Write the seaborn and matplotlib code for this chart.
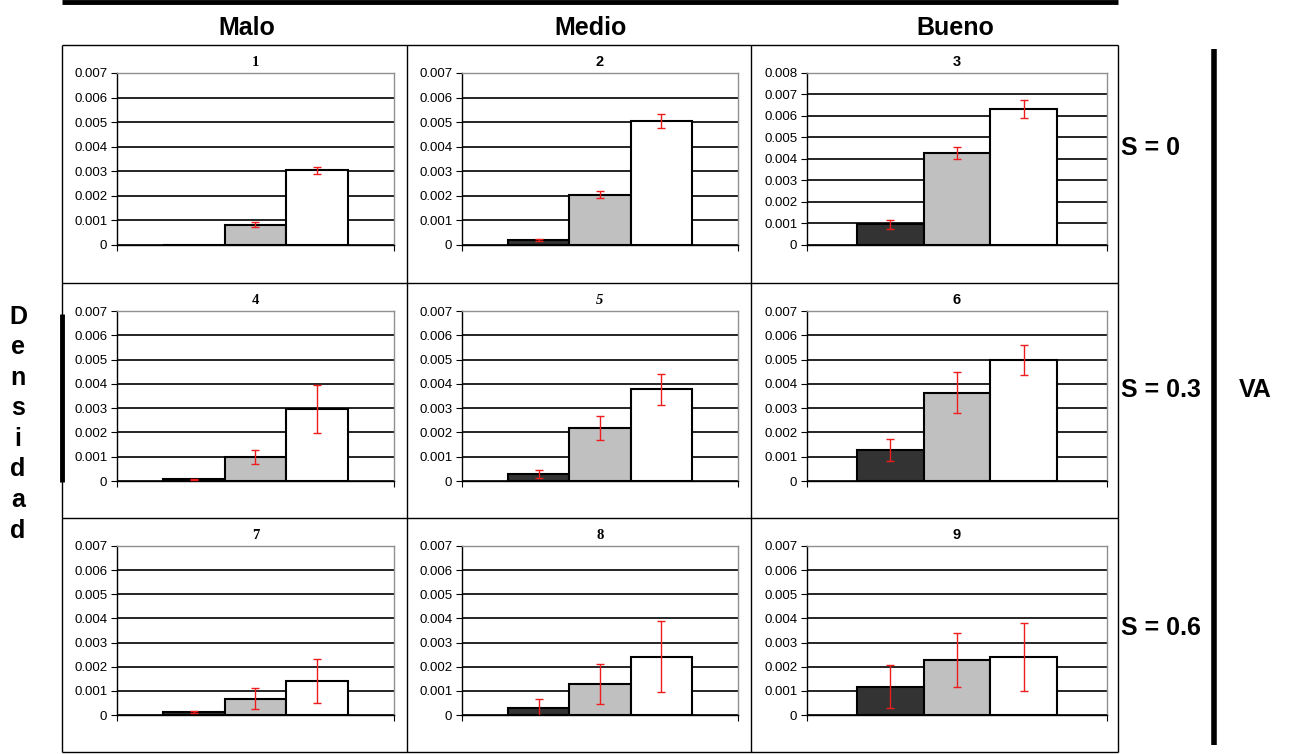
import pandas as pd
import matplotlib
matplotlib.use("Agg")
import matplotlib.pyplot as plt
from matplotlib.lines import Line2D
from matplotlib.ticker import FuncFormatter, MultipleLocator
import seaborn as sns

# datos (densidad media y error por panel)
series = ["bajo", "medio", "alto"]
colores = ["#333333", "#c0c0c0", "#ffffff"]
columnas = ["Malo", "Medio", "Bueno"]
filas = ["S = 0", "S = 0.3", "S = 0.6"]

p1 = [0.0, 0.00083, 0.00304]
p2 = [0.0002, 0.00205, 0.00504]
p3 = [0.00096, 0.00428, 0.00632]
p4 = [0.00007, 0.00098, 0.00296]
p5 = [0.00029, 0.00218, 0.00378]
p6 = [0.00127, 0.00364, 0.00497]
p7 = [0.00012, 0.00067, 0.0014]
p8 = [0.00028, 0.0013, 0.00241]
p9 = [0.00118, 0.00229, 0.00241]

e1 = [0.0, 0.0001, 0.00014]
e2 = [0.00003, 0.00015, 0.00028]
e3 = [0.0002, 0.0003, 0.00041]
e4 = [0.00002, 0.00028, 0.001]
e5 = [0.00016, 0.00048, 0.00064]
e6 = [0.00045, 0.00086, 0.00061]
e7 = [0.00004, 0.00044, 0.00092]
e8 = [0.0004, 0.00083, 0.00147]
e9 = [0.0009, 0.00112, 0.00142]

ymax = [0.007, 0.007, 0.008, 0.007, 0.007, 0.007, 0.007, 0.007, 0.007]

valores = [p1, p2, p3, p4, p5, p6, p7, p8, p9]
errores = [e1, e2, e3, e4, e5, e6, e7, e8, e9]

rows = []
for i, (vals, errs) in enumerate(zip(valores, errores)):
    for s, v, e in zip(series, vals, errs):
        rows.append({"panel": i + 1, "grupo": "g", "serie": s, "valor": v, "err": e})
df = pd.DataFrame(rows)

sns.set_style("white")
plt.rcParams["font.family"] = ["Liberation Sans", "DejaVu Sans"]
plt.rcParams["text.color"] = "black"
plt.rcParams["xtick.color"] = "black"
plt.rcParams["ytick.color"] = "black"
plt.rcParams["axes.labelcolor"] = "black"

W, H = 1295, 754
fig = plt.figure(figsize=(W / 100, H / 100), dpi=100)


def fx(x):
    return x / W


def fy(y):
    return 1 - y / H


def linea(x0, y0, x1, y1, lw=1.0, color="black"):
    fig.add_artist(Line2D([fx(x0), fx(x1)], [fy(y0), fy(y1)], transform=fig.transFigure,
                          color=color, linewidth=lw, solid_capstyle="butt"))


# estilos del titulo de cada panel (como en el original)
titulo_fuente = {1: ("Liberation Serif", "normal"), 4: ("Liberation Serif", "normal"),
                 7: ("Liberation Serif", "normal"), 8: ("Liberation Serif", "normal"),
                 5: ("Liberation Serif", "italic")}

lefts = [117, 462, 807]
rights = [394, 738, 1107]
tops = [73, 311, 546]
bottoms = [245, 481, 715]

fmt = FuncFormatter(lambda v, _: "0" if abs(v) < 1e-9 else f"{v:.3f}")

for i in range(9):
    r, c = divmod(i, 3)
    l, rt, t, b = lefts[c], rights[c], tops[r], bottoms[r]
    ax = fig.add_axes([fx(l), fy(b), fx(rt - l), (b - t) / H])
    sub = df[df["panel"] == i + 1]
    sns.barplot(data=sub, x="grupo", y="valor", hue="serie", hue_order=series,
                palette=colores, width=0.667, edgecolor="black", linewidth=1.5,
                errorbar=None, legend=False, ax=ax, zorder=3)
    for cont, (_, row) in zip(ax.containers, sub.iterrows()):
        bar = cont[0]
        if row["err"] > 0:
            ax.errorbar(bar.get_x() + bar.get_width() / 2, row["valor"], yerr=row["err"],
                        fmt="none", ecolor="#ee1c1c", elinewidth=1.0, capsize=3, capthick=1.0,
                        zorder=4)
    ax.set_xlim(-0.5, 0.5)
    ax.set_ylim(0, ymax[i])
    ax.yaxis.set_major_locator(MultipleLocator(0.001))
    ax.yaxis.set_major_formatter(fmt)
    ax.set_xticks([-0.5, 0.5])
    ax.set_xticklabels(["", ""])
    ax.set_xlabel("")
    ax.set_ylabel("")
    ax.tick_params(axis="both", direction="out", length=4, width=0.8, color="black",
                   labelcolor="black", labelsize=9.5, pad=3, left=True, bottom=True)
    ax.grid(axis="y", color="black", linewidth=1.2, zorder=1)
    ax.set_axisbelow(True)
    ax.get_ygridlines()[-1].set_visible(False)
    for side in ["left", "bottom"]:
        ax.spines[side].set_color("black")
        ax.spines[side].set_linewidth(1.0)
    for side in ["top", "right"]:
        ax.spines[side].set_color("#909090")
        ax.spines[side].set_linewidth(1.0)
    fam, sty = titulo_fuente.get(i + 1, ("Liberation Sans", "normal"))
    ax.set_title(str(i + 1), fontsize=10.5, fontweight="bold", family=fam, style=sty,
                 pad=5, color="black")

# marco de la tabla
xs = [62, 407, 751, 1118]
ys = [45, 283, 518, 752]
for x in xs:
    linea(x, 45, x, 752, lw=1.0)
for y in ys:
    linea(62, y, 1118, y, lw=1.0)
linea(62, 2, 1118, 2, lw=3.5)
linea(62, 314, 62, 482, lw=3.5)
linea(1214, 49, 1214, 745, lw=4)

big = dict(fontsize=18, fontweight="bold", family="Liberation Sans", color="black")
for x, name in zip([247, 591, 955], columnas):
    fig.text(fx(x), fy(28), name, ha="center", va="center", **big)
for y, name in zip([148, 390, 628], filas):
    fig.text(fx(1121), fy(y), name, ha="left", va="center", **big)
fig.text(fx(1255), fy(390), "VA", ha="center", va="center", **big)
for k, ch in enumerate("Densidad"):
    fig.text(fx(18), fy(317 + k * 30.5), ch, ha="center", va="center", **big)

fig.savefig("out.png", dpi=100)
